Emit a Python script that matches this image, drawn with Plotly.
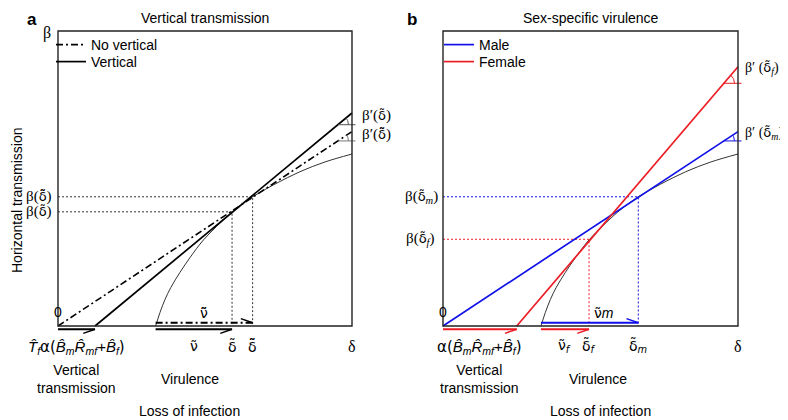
import numpy as np
import plotly.graph_objects as go

# the page adds an 8px body margin, so the figure is 8px smaller than the window
OFF = 8
W, H = 788 - OFF, 420 - OFF

# pixel frame (in the window) of each panel box: left, right, top, bottom
BOX_A = (58, 352, 31, 326)
BOX_B = (443, 738, 31, 326)
XR = [-0.05, 1.05]
YR = [-0.05, 1.02]

SANS = "Liberation Sans, Arial, sans-serif"
SERIF = "Liberation Serif, Times New Roman, serif"
GREEK = "DejaVu Sans, sans-serif"
BLUE = "#1010e8"
RED = "#ec1c24"
DARK = "#333333"

# schematic beta(delta) curve, in box units (same in both panels)
curve_x = [0.332, 0.347, 0.364, 0.384, 0.415, 0.449, 0.495, 0.540, 0.592, 0.626, 0.662, 0.738, 0.823, 0.908, 1.000]
curve_y = [0.000, 0.046, 0.090, 0.131, 0.182, 0.232, 0.292, 0.338, 0.386, 0.413, 0.438, 0.481, 0.523, 0.556, 0.583]
nu_start = 0.332

# panel a: vertical transmission
novert_x = [0.0, 1.0]
novert_y = [0.0, 0.659]
vert_x = [0.126, 1.0]
vert_y = [0.0, 0.722]
delta_t, beta_t = 0.592, 0.387
delta_tt, beta_tt = 0.662, 0.438

# panel b: sex-specific virulence
male_x = [0.0, 1.0]
male_y = [0.0, 0.659]
female_x = [0.25, 1.0]
female_y = [0.0, 0.879]
delta_f, beta_f = 0.495, 0.294
delta_m, beta_m = 0.662, 0.438


def dom_x(box):
    l, r = box[0] - OFF, box[1] - OFF
    s = r - l
    return [(l + XR[0] * s) / W, (l + XR[1] * s) / W]


def dom_y(box):
    t, b = box[2] - OFF, box[3] - OFF
    s = b - t
    return [1 - (b - YR[0] * s) / H, 1 - (b - YR[1] * s) / H]


fig = go.Figure()


def line(xs, ys, ax, color, width, dash="solid", showlegend=False, **kw):
    fig.add_trace(go.Scatter(x=xs, y=ys, mode="lines", xaxis=ax[0], yaxis=ax[1],
                             line=dict(color=color, width=width, dash=dash),
                             showlegend=showlegend, hoverinfo="skip", **kw))


def arrow(x0, x1, ax, color, below=True, dash="solid"):
    y = -0.011 if below else 0.011
    dy = -0.014 if below else 0.014
    line([x0, x1], [y, y], ax, color, 1.8, dash)
    line([x1 - 0.04, x1], [y + dy, y], ax, color, 1.5)


def angle_mark(xs, ys, ax, color):
    m = (ys[1] - ys[0]) / (xs[1] - xs[0])
    cx = 0.952
    cy = ys[0] + m * (cx - xs[0])
    line([cx, 1.012], [cy, cy], ax, color, 1)
    th = np.linspace(0, np.arctan(m), 12)
    line(cx + 0.036 * np.cos(th), cy + 0.036 * np.sin(th), ax, color, 1)


A = ("x", "y")
B = ("x2", "y2")
DASHDOT = "7px,3px,2px,3px"

# ---- panel a
line(curve_x, curve_y, A, DARK, 1, line_shape="spline")
line([0, delta_tt, delta_tt], [beta_tt, beta_tt, 0], A, DARK, 1, "2px,2px")
line([0, delta_t, delta_t], [beta_t, beta_t, 0], A, DARK, 1, "2px,2px")
line(novert_x, novert_y, A, "black", 1.6, DASHDOT, showlegend=True,
     name="No vertical", legend="legend")
line(vert_x, vert_y, A, "black", 1.7, showlegend=True, name="Vertical", legend="legend3")
arrow(0, vert_x[0], A, "black")
arrow(nu_start, delta_t, A, "black")
arrow(nu_start, delta_tt, A, "black", below=False, dash=DASHDOT)
angle_mark(vert_x, vert_y, A, "#555555")
angle_mark(novert_x, novert_y, A, "#777777")

# ---- panel b
line(curve_x, curve_y, B, DARK, 1, line_shape="spline")
line([0, delta_m, delta_m], [beta_m, beta_m, 0], B, BLUE, 1, "2px,2px")
line([0, delta_f, delta_f], [beta_f, beta_f, 0], B, RED, 1, "2px,2px")
line(male_x, male_y, B, BLUE, 1.7, showlegend=True, name="Male", legend="legend2")
line(female_x, female_y, B, RED, 1.7, showlegend=True, name="Female", legend="legend4")
arrow(0, female_x[0], B, RED)
arrow(nu_start, delta_f, B, RED)
arrow(nu_start, delta_m, B, BLUE, below=False)
angle_mark(male_x, male_y, B, BLUE)
angle_mark(female_x, female_y, B, RED)

for ax in (A, B):
    fig.add_shape(type="rect", x0=0, y0=0, x1=1, y1=1, xref=ax[0], yref=ax[1],
                  line=dict(color="#222222", width=1.4), layer="above")

ann = []


def label(ax, x, y, text, xs=0, ys=0, size=15, font=SERIF, anchor="center", **kw):
    ann.append(dict(xref=ax[0], yref=ax[1], x=x, y=y, text=text, showarrow=False,
                    xshift=xs, yshift=ys, xanchor=anchor, yanchor="middle",
                    font=dict(family=font, size=size, color="black"), **kw))


sp = lambda t: f'<span style="font-family:{SANS}">{t}</span>'
gk = lambda t: f'<span style="font-family:{GREEK};font-size:13px">{t}</span>'
dt = gk("δ\u0303")
dtt = gk("δ\u0303\u0303")
nt = "ν\u0303"
ntt = "ν\u0303\u0303"
bh = sp("<i>B\u0302</i><sub><i>m</i></sub><i>R\u0302</i><sub><i>mf</i></sub>+<i>B\u0302</i><sub><i>f</i></sub>")

# panel a text
label(A, 0, 1, "<b>a</b>", xs=-26, ys=12, size=17, font=SANS)
label(A, 0.5, 1, "Vertical transmission", ys=13, size=14, font=SANS)
label(A, 0, 1, "β", xs=-11, ys=-2, size=16)
label(A, 0, 0, "0", ys=14, size=14, font=SANS)
label(A, 0, beta_tt, f"β({dtt})", xs=-4, anchor="right")
label(A, 0, beta_t, f"β({dt})", xs=-4, anchor="right")
label(A, 1, vert_y[1], f"β′({dt})", xs=8, ys=-2, anchor="left")
label(A, 1, novert_y[1], f"β′({dtt})", xs=8, ys=-3, anchor="left")
label(A, vert_x[0] / 2, 0, sp("<i>T\u0302</i><sub><i>f</i></sub>") + "α(" + bh + ")", ys=-21, size=15, font=GREEK)
label(A, (nu_start + delta_t) / 2, 0, nt, ys=-20, size=14, font=GREEK)
label(A, (nu_start + delta_tt) / 2, 0, ntt, ys=13, size=14, font=GREEK)
label(A, delta_t, 0, "δ\u0303", ys=-20, size=14, font=GREEK)
label(A, delta_tt, 0, "δ\u0303\u0303", ys=-20, size=14, font=GREEK)
label(A, 1, 0, "δ", ys=-20, size=16)
label(A, vert_x[0] / 2, 0, "Vertical<br>transmission", ys=-53, size=14, font=SANS)
label(A, (nu_start + delta_t) / 2, 0, "Virulence", xs=-4, ys=-53, size=14, font=SANS)
label(A, (nu_start + delta_t) / 2, 0, "Loss of infection", xs=-4, ys=-85, size=14, font=SANS)

# panel b text
label(B, 0, 1, "<b>b</b>", xs=-31, ys=12, size=17, font=SANS)
label(B, 0.5, 1, "Sex-specific virulence", ys=13, size=14, font=SANS)
label(B, 0, 0, "0", ys=14, size=14, font=SANS)
label(B, 0, beta_m, f"β({dt}<sub><i>m</i></sub>)", xs=-3, anchor="right")
label(B, 0, beta_f, f"β({dt}<sub><i>f</i></sub>)", xs=-6, anchor="right")
label(B, 1, female_y[1], f"β′ ({dt}<sub><i>f</i></sub>)", xs=5, ys=-2, anchor="left", size=14)
label(B, 1, male_y[1], f"β′ ({dt}<sub><i>m</i></sub>)", xs=5, ys=-2, anchor="left", size=14)
label(B, female_x[0] / 2, 0, "α(" + bh + ")", ys=-21, size=15, font=GREEK)
label(B, (nu_start + delta_f) / 2, 0, f"{nt}<sub><i>f</i></sub>", ys=-20, size=14, font=GREEK)
label(B, (nu_start + delta_m) / 2, 0, nt + sp("<i>m</i>"), xs=14, ys=13, size=14, font=GREEK)
label(B, delta_f, 0, "δ\u0303<sub><i>f</i></sub>", ys=-20, size=14, font=GREEK)
label(B, delta_m, 0, "δ\u0303<sub><i>m</i></sub>", ys=-20, size=14, font=GREEK)
label(B, 1, 0, "δ", ys=-20, size=16)
label(B, female_x[0] / 2, 0, "Vertical<br>transmission", ys=-53, size=14, font=SANS)
label(B, (nu_start + delta_m) / 2, 0, "Virulence", xs=8, ys=-53, size=14, font=SANS)
label(B, (nu_start + delta_m) / 2, 0, "Loss of infection", xs=11, ys=-85, size=14, font=SANS)

ann.append(dict(xref="paper", yref="paper", x=(17 - OFF) / W, y=1 - (200 - OFF) / H,
                text="Horizontal transmission", textangle=-90, showarrow=False,
                xanchor="center", yanchor="middle", font=dict(family=SANS, size=14, color="black")))

ax_style = dict(visible=False, showgrid=False, zeroline=False, fixedrange=True)


def legend_at(px, py):
    return dict(x=(px - OFF) / W, y=1 - (py - OFF) / H, xanchor="left", yanchor="top",
                bgcolor="rgba(0,0,0,0)", borderwidth=0, itemwidth=30,
                font=dict(family=SANS, size=14, color="black"))


fig.update_layout(
    width=W, height=H, autosize=False,
    margin=dict(l=0, r=0, t=0, b=0),
    paper_bgcolor="white", plot_bgcolor="white",
    xaxis=dict(domain=dom_x(BOX_A), range=XR, **ax_style),
    yaxis=dict(domain=dom_y(BOX_A), range=YR, **ax_style),
    xaxis2=dict(domain=dom_x(BOX_B), range=XR, anchor="y2", **ax_style),
    yaxis2=dict(domain=dom_y(BOX_B), range=YR, anchor="x2", **ax_style),
    legend=legend_at(51, 29),
    legend3=legend_at(51, 46),
    legend2=legend_at(439, 29),
    legend4=legend_at(439, 46),
    annotations=ann,
    showlegend=True,
)

fig.write_html("out.html")
